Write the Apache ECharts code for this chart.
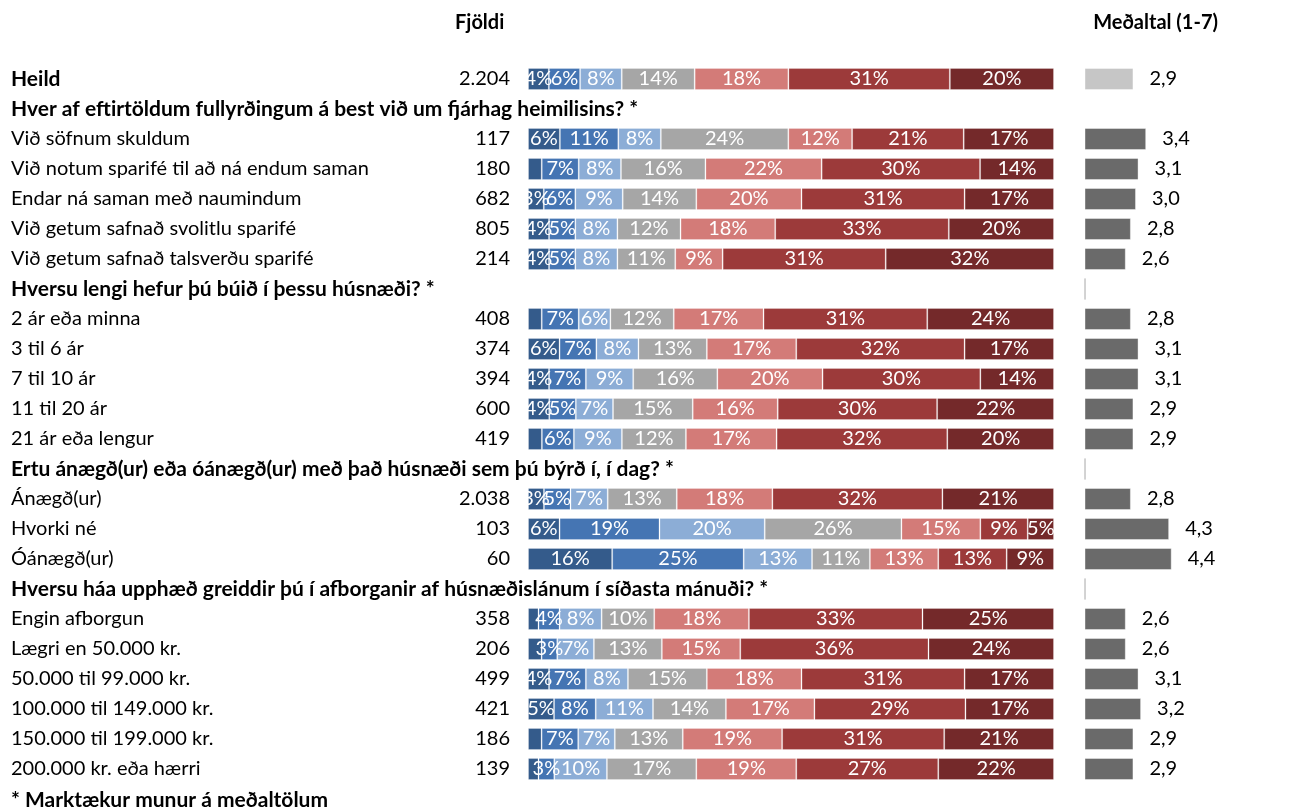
<!DOCTYPE html>
<html>
<head>
<meta charset="utf-8">
<script src="https://cdn.jsdelivr.net/npm/echarts@6/dist/echarts.min.js"></script>
<style>
  html, body { margin: 0; padding: 0; background: #fff; }
  #myChart { width: 1313px; height: 808px; }
</style>
</head>
<body>
<div id="myChart"></div>
<script>
// row labels (top to bottom), headers are the question rows
const rowLabels = [
  'Heild',
  'Hver af eftirtöldum fullyrðingum á best við um fjárhag heimilisins? *',
  'Við söfnum skuldum',
  'Við notum sparifé til að ná endum saman',
  'Endar ná saman með naumindum',
  'Við getum safnað svolitlu sparifé',
  'Við getum safnað talsverðu sparifé',
  'Hversu lengi hefur þú búið í þessu húsnæði? *',
  '2 ár eða minna',
  '3 til 6 ár',
  '7 til 10 ár',
  '11 til 20 ár',
  '21 ár eða lengur',
  'Ertu ánægð(ur) eða óánægð(ur) með það húsnæði sem þú býrð í, í dag? *',
  'Ánægð(ur)',
  'Hvorki né',
  'Óánægð(ur)',
  'Hversu háa upphæð greiddir þú í afborganir af húsnæðislánum í síðasta mánuði? *',
  'Engin afborgun',
  'Lægri en 50.000 kr.',
  '50.000 til 99.000 kr.',
  '100.000 til 149.000 kr.',
  '150.000 til 199.000 kr.',
  '200.000 kr. eða hærri'
]
const boldRows = [0, 1, 7, 13, 17]
const counts = ['2.204', '', '117', '180', '682', '805', '214', '', '408', '374', '394', '600', '419', '',
  '2.038', '103', '60', '', '358', '206', '499', '421', '186', '139']
const means = [2.9, null, 3.4, 3.1, 3.0, 2.8, 2.6, null, 2.8, 3.1, 3.1, 2.9, 2.9, null,
  2.8, 4.3, 4.4, null, 2.6, 2.6, 3.1, 3.2, 2.9, 2.9]
// header rows that show a thin stub line in the mean column
const stubRows = [7, 13, 17]

// answer shares (%) per level, one value per row
const level1 = [4, null, 6, 2.6, 3, 4, 4, null, 2.6, 6, 4, 4, 2.6, null, 3, 6, 16, null, 2, 2.6, 4, 5, 2.6, 2]
const level2 = [6, null, 11, 7, 6, 5, 5, null, 7, 7, 7, 5, 6, null, 5, 19, 25, null, 4, 3, 7, 8, 7, 3]
const level3 = [8, null, 8, 8, 9, 8, 8, null, 6, 8, 9, 7, 9, null, 7, 20, 13, null, 8, 7, 8, 11, 7, 10]
const level4 = [14, null, 24, 16, 14, 12, 11, null, 12, 13, 16, 15, 12, null, 13, 26, 11, null, 10, 13, 15, 14, 13, 17]
const level5 = [18, null, 12, 22, 20, 18, 9, null, 17, 17, 20, 16, 17, null, 18, 15, 13, null, 18, 15, 18, 17, 19, 19]
const level6 = [31, null, 21, 30, 31, 33, 31, null, 31, 32, 30, 30, 32, null, 32, 9, 13, null, 33, 36, 31, 29, 31, 27]
const level7 = [20, null, 17, 14, 17, 20, 32, null, 24, 17, 14, 22, 20, null, 21, 5, 9, null, 25, 24, 17, 17, 21, 22]

const levels = [level1, level2, level3, level4, level5, level6, level7]
const colors = ['#345b8b', '#4575b3', '#8cadd6', '#a6a6a6', '#d37b78', '#9c3a3a', '#74292a']
const font = 'Lato'
const fs = 20

const totals = rowLabels.map((_, i) => levels.reduce((s, l) => s + (l[i] || 0), 0))
const cats = rowLabels.map((_, i) => String(i))

const stackSeries = levels.map((lvl, k) => ({
  type: 'bar',
  stack: 'all',
  xAxisIndex: 0,
  yAxisIndex: 0,
  barWidth: 22,
  itemStyle: { color: colors[k], borderColor: 'rgba(255,255,255,0.25)', borderWidth: 1 },
  label: {
    show: true,
    position: 'inside',
    color: '#fff',
    fontFamily: font,
    fontSize: fs,
    formatter: p => (p.data.raw >= 3 ? Math.round(p.data.raw) + '%' : '')
  },
  data: lvl.map((v, i) => (v == null ? null : { value: v / totals[i] * 100, raw: v }))
}))

const meanData = means.map((v, i) => {
  if (v != null) {
    return { value: v, itemStyle: { color: i === 0 ? '#c6c6c6' : '#6a6a6a' } }
  }
  if (stubRows.includes(i)) {
    return { value: 1.02, stub: true, itemStyle: { color: '#c4c4c4', borderColor: '#c4c4c4', borderWidth: 1 } }
  }
  return null
})

const titleStyle = { fontFamily: font, fontSize: fs, fontWeight: 'bold', color: '#000' }

const myChart = echarts.init(document.getElementById('myChart'))
myChart.setOption({
  animation: false,
  textStyle: { fontFamily: font },
  title: [
    { text: 'Fjöldi', left: 450, top: 8, textStyle: titleStyle },
    { text: 'Meðaltal (1-7)', right: 90, top: 8, textStyle: titleStyle },
    { text: '* Marktækur munur á meðaltölum', left: 6, top: 785, textStyle: Object.assign({}, titleStyle, { fontSize: 21 }) }
  ],
  grid: [
    { left: 528, width: 526, top: 64, height: 720, outerBoundsMode: 'none' },
    { left: 1085, width: 153, top: 64, height: 720, outerBoundsMode: 'none' }
  ],
  xAxis: [
    { gridIndex: 0, type: 'value', min: 0, max: 100, show: false },
    { gridIndex: 1, type: 'value', min: 1, max: 7, show: false }
  ],
  yAxis: [
    {
      gridIndex: 0,
      type: 'category',
      data: cats,
      inverse: true,
      axisLine: { show: false },
      axisTick: { show: false },
      splitLine: { show: false },
      axisLabel: {
        interval: 0,
        align: 'left',
        margin: 517,
        color: '#000',
        fontFamily: font,
        fontSize: fs,
        formatter: (v, i) => (boldRows.includes(i) ? '{b|' + rowLabels[i] + '}' : rowLabels[i]),
        rich: { b: { fontWeight: 'bold', fontFamily: font, fontSize: 21, color: '#000' } }
      }
    },
    {
      gridIndex: 1,
      type: 'category',
      data: cats,
      inverse: true,
      axisLine: { show: false },
      axisTick: { show: false },
      splitLine: { show: false },
      axisLabel: {
        interval: 0,
        align: 'right',
        margin: 575,
        color: '#000',
        fontFamily: font,
        fontSize: fs,
        formatter: (v, i) => counts[i]
      }
    }
  ],
  series: stackSeries.concat([{
    type: 'bar',
    xAxisIndex: 1,
    yAxisIndex: 1,
    barWidth: 22,
    itemStyle: { borderColor: 'rgba(255,255,255,0.4)', borderWidth: 1 },
    label: {
      show: true,
      position: 'right',
      distance: 16,
      color: '#000',
      fontFamily: font,
      fontSize: fs,
      formatter: p => (p.data && !p.data.stub ? p.data.value.toFixed(1).replace('.', ',') : '')
    },
    data: meanData
  }])
})
</script>
</body>
</html>
